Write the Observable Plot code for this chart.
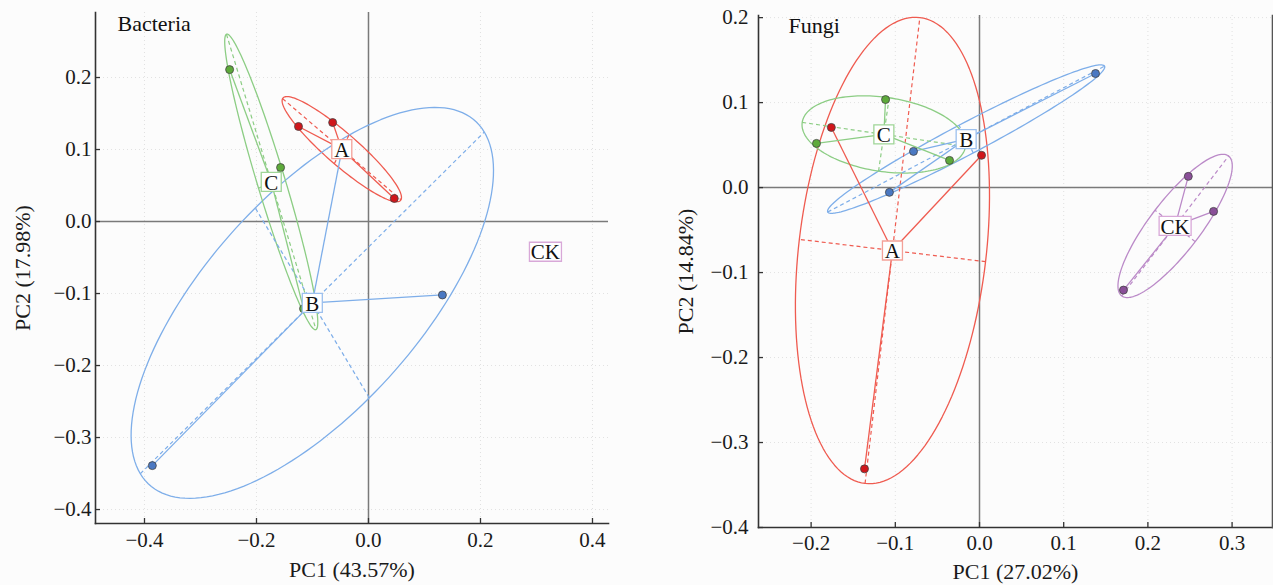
<!DOCTYPE html>
<html><head><meta charset="utf-8">
<script src="https://cdn.jsdelivr.net/npm/d3@7"></script>
<script src="https://cdn.jsdelivr.net/npm/@observablehq/plot@0.6"></script>
<style>
html,body{margin:0;padding:0;background:#fcfcfc;}
#wrap{display:flex;width:1273px;height:585px;overflow:hidden;}
#wrap svg{display:block;}
</style></head><body><div id="wrap"></div>
<script>
// ---- data ----
const groups = ["A", "B", "C", "CK"];

const bacteriaGroup = ["A", "A", "A", "B", "B", "B", "C", "C", "C"];
const bacteriaPC1 = [-0.125, -0.064, 0.046, -0.386, 0.132, -0.047, -0.248, -0.157, -0.116];
const bacteriaPC2 = [0.132, 0.1375, 0.032, -0.339, -0.102, 0.102, 0.211, 0.075, -0.121];
const bacteriaExtraLabels = [{group: "CK", x: 0.316, y: -0.042}];

const fungiGroup = ["A", "A", "A", "B", "B", "B", "C", "C", "C", "CK", "CK", "CK"];
const fungiPC1 = [-0.176, 0.0024, -0.1366, -0.0784, -0.107, 0.1378, -0.1116, -0.1936, -0.0356, 0.248, 0.278, 0.171];
const fungiPC2 = [0.0708, 0.038, -0.331, 0.0426, -0.0056, 0.1342, 0.1036, 0.052, 0.032, 0.0132, -0.028, -0.1206];

const bacteriaXTicks = [-0.4, -0.2, 0.0, 0.2, 0.4];
const bacteriaYTicks = [-0.4, -0.3, -0.2, -0.1, 0.0, 0.1, 0.2];
const fungiXTicks = [-0.2, -0.1, 0.0, 0.1, 0.2, 0.3];
const fungiYTicks = [-0.4, -0.3, -0.2, -0.1, 0.0, 0.1, 0.2];

const pointColor = {A: "#d0161b", B: "#4a78c2", C: "#5daa3a", CK: "#8a4f98"};
const lineColor = {A: "#ef5b50", B: "#7eaee9", C: "#8ccd84", CK: "#bb8ac8"};
const boxColor = {A: "#f3a198", B: "#9cc0ee", C: "#9fd597", CK: "#d8a8d8"};

const ELLIPSE_SCALE = 1.23;
const FONT = "'Liberation Serif', 'Times New Roman', serif";

function groupStats(xs, ys, gs) {
  const out = [];
  for (const g of groups) {
    const idx = gs.map((d, i) => d === g ? i : -1).filter(i => i >= 0);
    if (!idx.length) continue;
    const n = idx.length;
    const mx = d3.mean(idx, i => xs[i]), my = d3.mean(idx, i => ys[i]);
    let sxx = 0, syy = 0, sxy = 0;
    for (const i of idx) { const dx = xs[i] - mx, dy = ys[i] - my; sxx += dx * dx; syy += dy * dy; sxy += dx * dy; }
    sxx /= (n - 1); syy /= (n - 1); sxy /= (n - 1);
    const tr = sxx + syy, det = sxx * syy - sxy * sxy;
    const disc = Math.sqrt(Math.max(0, tr * tr / 4 - det));
    const l1 = tr / 2 + disc, l2 = Math.max(0, tr / 2 - disc);
    const th = 0.5 * Math.atan2(2 * sxy, sxx - syy);
    const ux = Math.cos(th), uy = Math.sin(th), vx = -uy, vy = ux;
    const a = ELLIPSE_SCALE * Math.sqrt(l1), b = ELLIPSE_SCALE * Math.sqrt(l2);
    out.push({group: g, mx, my, ux, uy, vx, vy, a, b, idx});
  }
  return out;
}

const box = (w, h) => ({draw(ctx) {
  ctx.moveTo(-w / 2, -h / 2); ctx.lineTo(w / 2, -h / 2); ctx.lineTo(w / 2, h / 2); ctx.lineTo(-w / 2, h / 2); ctx.closePath();
}});

function panel({xs, ys, gs, extraLabels, xDomain, yDomain, xTicks, yTicks, width, margins, title, titleDx, titleDy, xLabel, yLabel, xLabelDy, yLabelDx, xTickPad, yTickPad, rightFrame}) {
  const st = groupStats(xs, ys, gs);
  const pts = xs.map((x, i) => ({x, y: ys[i], group: gs[i]}));
  const ell = [];
  for (const s of st) {
    for (let j = 0; j <= 160; j++) {
      const t = 2 * Math.PI * j / 160;
      ell.push({group: s.group,
        x: s.mx + s.a * Math.cos(t) * s.ux + s.b * Math.sin(t) * s.vx,
        y: s.my + s.a * Math.cos(t) * s.uy + s.b * Math.sin(t) * s.vy});
    }
  }
  const axes = [];
  for (const s of st) {
    axes.push({group: s.group, x1: s.mx - s.a * s.ux, y1: s.my - s.a * s.uy, x2: s.mx + s.a * s.ux, y2: s.my + s.a * s.uy});
    axes.push({group: s.group, x1: s.mx - s.b * s.vx, y1: s.my - s.b * s.vy, x2: s.mx + s.b * s.vx, y2: s.my + s.b * s.vy});
  }
  const spokes = [];
  for (const s of st) for (const i of s.idx) spokes.push({group: s.group, x1: xs[i], y1: ys[i], x2: s.mx, y2: s.my});
  const labels = st.map(s => ({group: s.group, x: s.mx, y: s.my})).concat(extraLabels);
  const short = labels.filter(d => d.group.length === 1), long = labels.filter(d => d.group.length > 1);
  const fmt = d3.format(".1f");
  return Plot.plot({
    width, height: 585,
    marginLeft: margins[0], marginRight: margins[1], marginTop: margins[2], marginBottom: margins[3],
    x: {domain: xDomain}, y: {domain: yDomain},
    color: {type: "identity"},
    style: {fontFamily: FONT, fontSize: "21px", background: "transparent", color: "#1a1a1a"},
    marks: [
      Plot.gridX(xTicks, {stroke: "#cfcfcf", strokeOpacity: 0.6, strokeDasharray: "1,3"}),
      Plot.gridY(yTicks, {stroke: "#cfcfcf", strokeOpacity: 0.6, strokeDasharray: "1,3"}),
      Plot.ruleX([0], {stroke: "#7a7a7a", strokeWidth: 1.5}),
      Plot.ruleY([0], {stroke: "#7a7a7a", strokeWidth: 1.5}),
      Plot.line(ell, {x: "x", y: "y", z: "group", stroke: d => lineColor[d.group], strokeWidth: 1.3, clip: true}),
      Plot.link(axes, {x1: "x1", y1: "y1", x2: "x2", y2: "y2", stroke: d => lineColor[d.group], strokeWidth: 1.2, strokeDasharray: "4,3", clip: true}),
      Plot.link(spokes, {x1: "x1", y1: "y1", x2: "x2", y2: "y2", stroke: d => lineColor[d.group], strokeWidth: 1.3}),
      Plot.dot(pts, {x: "x", y: "y", r: 4, fill: d => pointColor[d.group], stroke: "#444", strokeWidth: 0.8}),
      Plot.dot(short, {x: "x", y: "y", symbol: box(20, 19), fill: "white", stroke: d => boxColor[d.group], strokeWidth: 1.3}),
      Plot.dot(long, {x: "x", y: "y", symbol: box(32, 19), fill: "white", stroke: d => boxColor[d.group], strokeWidth: 1.3}),
      Plot.text(labels, {x: "x", y: "y", text: "group", fontSize: 21, dy: 1, fill: "#111"}),
      Plot.axisX(xTicks, {tickSize: 5, dy: -5, fill: "none", stroke: "#333", strokeWidth: 1.3, label: null}),
      Plot.axisX(xTicks, {tickSize: 0, tickPadding: xTickPad, tickFormat: fmt, fill: "#1a1a1a", label: null, fontSize: 21}),
      Plot.axisY(yTicks, {tickSize: 5, dx: 5, fill: "none", stroke: "#333", strokeWidth: 1.3, label: null}),
      Plot.axisY(yTicks, {tickSize: 0, tickPadding: yTickPad, tickFormat: fmt, fill: "#1a1a1a", label: null, fontSize: 21}),
      Plot.frame({anchor: "bottom", stroke: "#333", strokeWidth: 1.6}),
      Plot.frame({anchor: "left", stroke: "#333", strokeWidth: 1.6}),
      ...(rightFrame ? [Plot.frame({anchor: "right", stroke: "#555", strokeWidth: 1.6})] : []),
      Plot.text([title], {text: d => d, frameAnchor: "top-left", textAnchor: "start", lineAnchor: "top", dx: titleDx, dy: titleDy, fontSize: 22, fill: "#111"}),
      Plot.text([xLabel], {text: d => d, frameAnchor: "bottom", textAnchor: "middle", lineAnchor: "middle", dy: xLabelDy, fontSize: 22, fill: "#1a1a1a"}),
      Plot.text([yLabel], {text: d => d, frameAnchor: "left", textAnchor: "middle", lineAnchor: "middle", rotate: -90, dx: yLabelDx, fontSize: 22, fill: "#1a1a1a"})
    ]
  });
}

const wrap = document.getElementById("wrap");
wrap.append(panel({
  xs: bacteriaPC1, ys: bacteriaPC2, gs: bacteriaGroup, extraLabels: bacteriaExtraLabels,
  xDomain: [-0.4875, 0.4286], yDomain: [-0.4194, 0.2903],
  xTicks: bacteriaXTicks, yTicks: bacteriaYTicks,
  width: 636, margins: [95, 28, 12, 62],
  title: "Bacteria", titleDx: 22, titleDy: 3,
  xLabel: "PC1 (43.57%)", yLabel: "PC2 (17.98%)", xLabelDy: 46, yLabelDx: -73, xTickPad: 9, yTickPad: 4, rightFrame: false
}));
wrap.append(panel({
  xs: fungiPC1, ys: fungiPC2, gs: fungiGroup, extraLabels: [],
  xDomain: [-0.2625, 0.348], yDomain: [-0.4, 0.2025],
  xTicks: fungiXTicks, yTicks: fungiYTicks,
  width: 637, margins: [122, 1, 15, 58],
  title: "Fungi", titleDx: 30, titleDy: 2,
  xLabel: "PC1 (27.02%)", yLabel: "PC2 (14.84%)", xLabelDy: 44, yLabelDx: -73, xTickPad: 8, yTickPad: 10, rightFrame: true
}));
</script>
</body></html>
